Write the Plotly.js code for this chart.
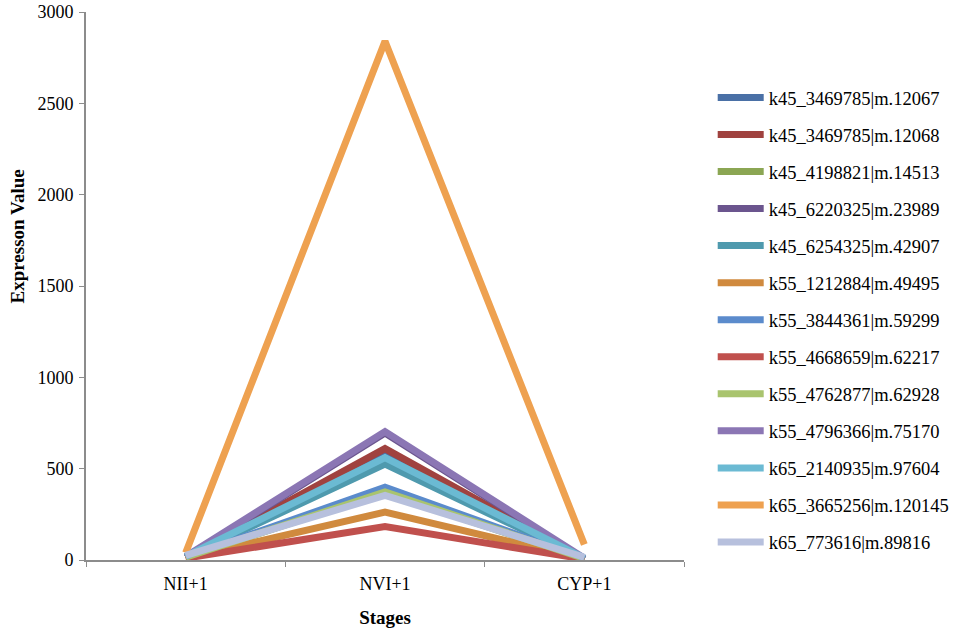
<!DOCTYPE html>
<html>
<head>
<meta charset="utf-8">
<script src="https://cdn.plot.ly/plotly-3.0.1.min.js"></script>
<style>html,body{margin:0;padding:0;background:#fff;}#chart{width:957px;height:634px;}</style>
</head>
<body>
<div id="chart"></div>
<script>
var stages = ["NII+1", "NVI+1", "CYP+1"];
var seriesNames = [
  "k45_3469785|m.12067",
  "k45_3469785|m.12068",
  "k45_4198821|m.14513",
  "k45_6220325|m.23989",
  "k45_6254325|m.42907",
  "k55_1212884|m.49495",
  "k55_3844361|m.59299",
  "k55_4668659|m.62217",
  "k55_4762877|m.62928",
  "k55_4796366|m.75170",
  "k65_2140935|m.97604",
  "k65_3665256|m.120145",
  "k65_773616|m.89816"
];
var v12067  = [15, 600, 5];
var v12068  = [15, 610, 5];
var v14513  = [15, 368, 5];
var v23989  = [15, 695, 5];
var v42907  = [15, 525, 5];
var v49495  = [10, 262, 5];
var v59299  = [15, 398, 8];
var v62217  = [10, 183, 5];
var v62928  = [15, 372, 8];
var v75170  = [20, 703, 10];
var v97604  = [20, 560, 10];
var v120145 = [40, 2840, 85];
var v89816  = [25, 354, 15];
var seriesValues = [v12067, v12068, v14513, v23989, v42907, v49495, v59299, v62217, v62928, v75170, v97604, v120145, v89816];
var colors = ["#4A70A6", "#A0423F", "#8BA653", "#6B558E", "#4F9AAE", "#D08A3E",
              "#5B8BCC", "#C0504D", "#A9C46E", "#8B76B4", "#6BBAD3", "#EEA150", "#B7C0DD"];
var yTitle = "Expresson Value";
var xTitle = "Stages";

var traces = seriesNames.map(function (n, i) {
  return {
    x: stages,
    y: seriesValues[i],
    name: n,
    legendgroup: "g" + i,
    type: "scatter",
    mode: "lines",
    line: {color: colors[i], width: 7}
  };
});

var serif = "Liberation Serif, Times New Roman, serif";
var layout = {
  width: 957,
  height: 634,
  margin: {l: 86, r: 273, t: 12, b: 74, autoexpand: false},
  paper_bgcolor: "#fff",
  plot_bgcolor: "#fff",
  showlegend: true,
  font: {family: serif, size: 18, color: "#000"},
  xaxis: {
    type: "category",
    range: [-0.5, 2.5],
    showgrid: false,
    zeroline: false,
    showline: true,
    linecolor: "#8c8c8c",
    linewidth: 2,
    ticks: "outside",
    tickson: "boundaries",
    ticklen: 5,
    tickcolor: "#8c8c8c",
    ticklabelstandoff: 6,
    tickfont: {family: serif, size: 18, color: "#000"},
    title: {text: "<b>" + xTitle + "</b>", font: {family: serif, size: 19, color: "#000"}, standoff: 18}
  },
  yaxis: {
    range: [0, 3000],
    dtick: 500,
    showgrid: false,
    zeroline: false,
    showline: true,
    linecolor: "#8c8c8c",
    linewidth: 2,
    ticks: "outside",
    ticklen: 5,
    tickcolor: "#8c8c8c",
    ticklabelstandoff: 2,
    tickfont: {family: serif, size: 18, color: "#000"}
  },
  annotations: [{
    text: "<b>" + yTitle + "</b>",
    xref: "paper", yref: "paper",
    x: -0.114, y: 0.59,
    xanchor: "center", yanchor: "middle",
    textangle: -90,
    showarrow: false,
    font: {family: serif, size: 19, color: "#000"}
  }],
  legend: {
    x: 1.048,
    xanchor: "left",
    y: 0.878,
    yanchor: "top",
    traceorder: "grouped",
    tracegroupgap: 10,
    font: {family: serif, size: 18.5, color: "#000"},
    itemwidth: 46,
    bgcolor: "rgba(0,0,0,0)"
  }
};

Plotly.newPlot("chart", traces, layout, {displayModeBar: false, staticPlot: true});
</script>
</body>
</html>
